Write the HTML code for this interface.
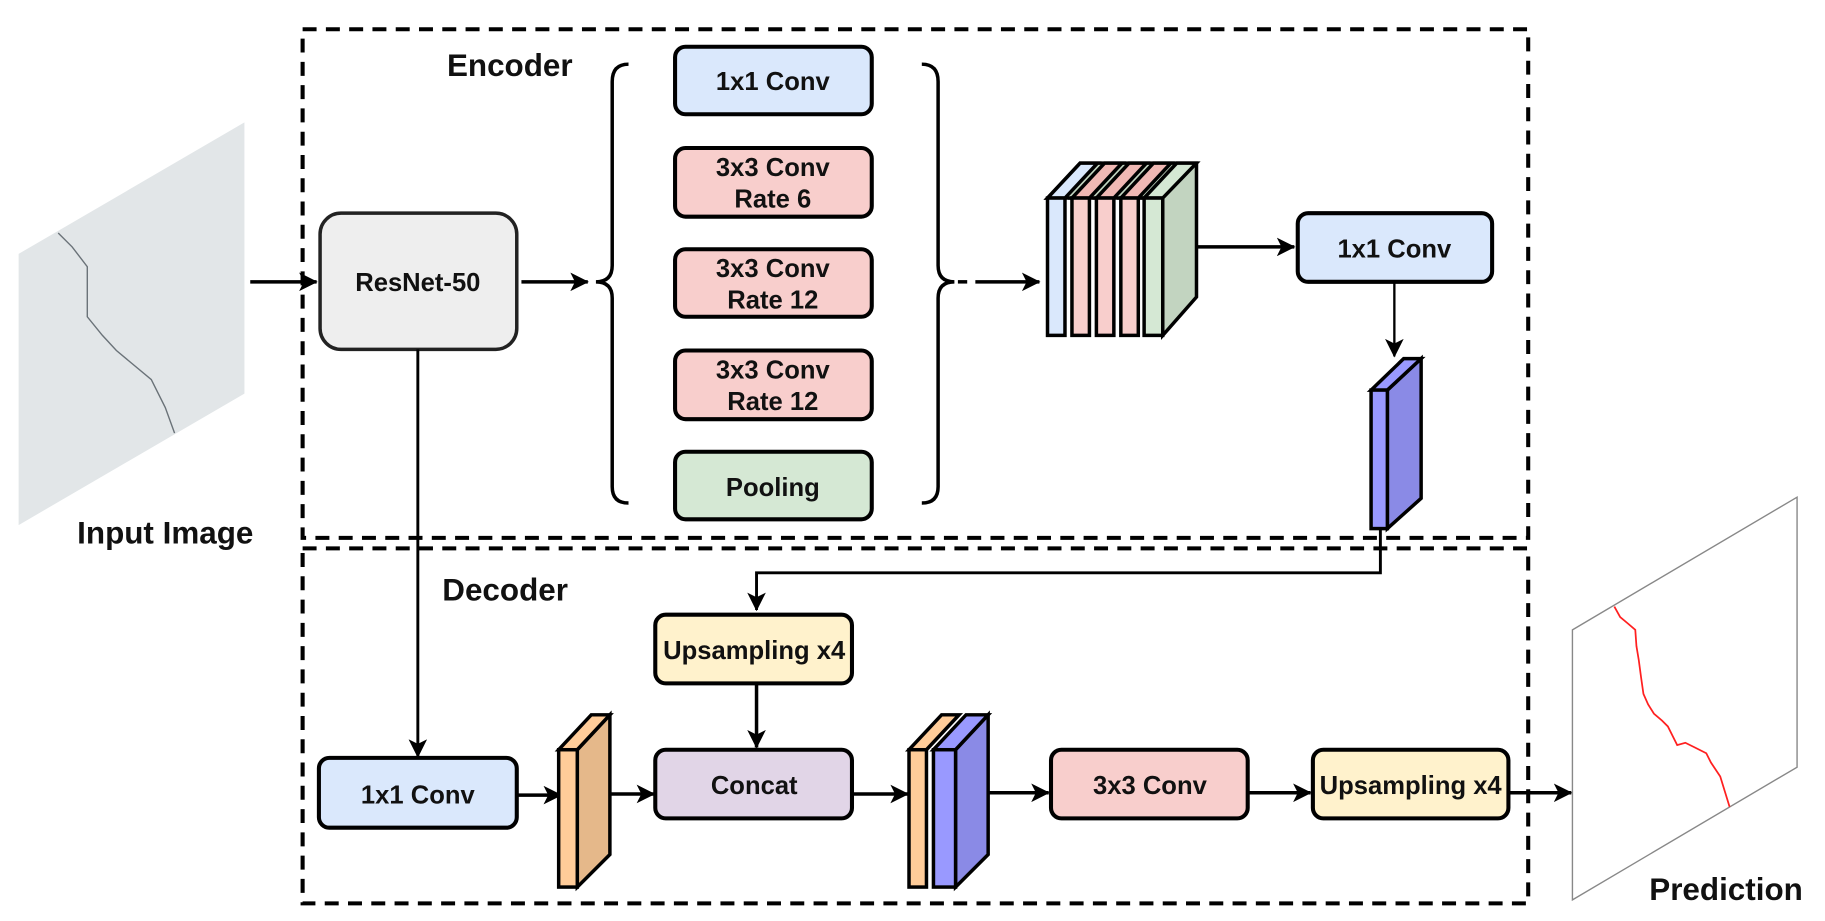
<!DOCTYPE html>
<html><head><meta charset="utf-8"><style>
html,body{margin:0;padding:0;background:#fff;}
svg{display:block;}
text{font-family:"Liberation Sans",Arial,sans-serif;font-weight:bold;fill:#111;}
</style></head><body>
<svg width="1825" height="921" viewBox="0 0 1568 791" xmlns="http://www.w3.org/2000/svg">
<defs>
<marker id="ah2" markerWidth="16" markerHeight="16" refX="15" refY="8" orient="auto" markerUnits="userSpaceOnUse">
<path d="M0,0 L16,8 L0,16 L4,8 z" fill="#000"/>
</marker>
</defs>
<!-- dashed boxes -->
<rect x="260" y="25" width="1053" height="437" fill="none" stroke="#000" stroke-width="3.5" stroke-dasharray="12 8"/>
<rect x="260" y="471" width="1053" height="305" fill="none" stroke="#000" stroke-width="3.5" stroke-dasharray="12 8"/>
<text x="384" y="65" font-size="27">Encoder</text>
<text x="380" y="516" font-size="27">Decoder</text>

<!-- input image -->
<polygon points="16,218 210,105 210,338 16,451" fill="#e2e6e8"/>
<polyline points="50,200 62,212 75,229 75,272 88,288 100,301 130,326 142,350 150,372" fill="none" stroke="#6a7278" stroke-width="1.2"/>
<text x="142" y="467" font-size="27" text-anchor="middle">Input Image</text>
<line x1="215" y1="242" x2="272" y2="242" stroke="#000" stroke-width="3" marker-end="url(#ah2)"/>

<!-- ResNet -->
<rect x="275" y="183" width="169" height="117" rx="18" fill="#eeeeee" stroke="#222" stroke-width="3"/>
<text x="359" y="250" font-size="22" text-anchor="middle">ResNet-50</text>
<line x1="448" y1="242" x2="505" y2="242" stroke="#000" stroke-width="3" marker-end="url(#ah2)"/>
<line x1="359" y1="300" x2="359" y2="650" stroke="#000" stroke-width="2.5" marker-end="url(#ah2)"/>

<!-- braces -->
<path d="M540,55 Q526,55 526,70 L526,228 Q526,242 512,242 Q526,242 526,256 L526,418 Q526,432 540,432" fill="none" stroke="#000" stroke-width="3"/>
<path d="M792,55 Q806,55 806,70 L806,228 Q806,242 820,242 Q806,242 806,256 L806,418 Q806,432 792,432" fill="none" stroke="#000" stroke-width="3"/>

<!-- ASPP boxes -->
<g stroke="#000" stroke-width="3.5">
<rect x="580" y="40" width="169" height="58" rx="9" fill="#dae8fc"/>
<rect x="580" y="127" width="169" height="59" rx="9" fill="#f8cecc"/>
<rect x="580" y="214" width="169" height="58" rx="9" fill="#f8cecc"/>
<rect x="580" y="301" width="169" height="59" rx="9" fill="#f8cecc"/>
<rect x="580" y="388" width="169" height="58" rx="9" fill="#d5e8d4"/>
</g>
<g font-size="22" text-anchor="middle">
<text x="664" y="77">1x1 Conv</text>
<text x="664" y="151">3x3 Conv</text><text x="664" y="178">Rate 6</text>
<text x="664" y="238">3x3 Conv</text><text x="664" y="265">Rate 12</text>
<text x="664" y="325">3x3 Conv</text><text x="664" y="352">Rate 12</text>
<text x="664" y="426">Pooling</text>
</g>
<line x1="823" y1="242" x2="831" y2="242" stroke="#000" stroke-width="3"/>
<line x1="838" y1="242" x2="893" y2="242" stroke="#000" stroke-width="3" marker-end="url(#ah2)"/>

<!-- stacked features -->
<g stroke="#000" stroke-width="3" stroke-linejoin="miter">
<polygon points="900,170 928,140 1028,140 1028,255 999,288 999,170" fill="#c2d4c0"/>
<polygon points="900,170 928,140 943,140 915,170" fill="#dae8fc"/>
<rect x="900" y="170" width="15" height="118" fill="#dae8fc"/>
<polygon points="921,170 949,140 964,140 936,170" fill="#f0b8b4"/>
<rect x="921" y="170" width="15" height="118" fill="#f8cecc"/>
<polygon points="942,170 970,140 985,140 957,170" fill="#f0b8b4"/>
<rect x="942" y="170" width="15" height="118" fill="#f8cecc"/>
<polygon points="963,170 991,140 1006,140 978,170" fill="#f0b8b4"/>
<rect x="963" y="170" width="15" height="118" fill="#f8cecc"/>
<polygon points="983,170 1011,140 1028,140 999,170" fill="#d5e8d4"/>
<rect x="983" y="170" width="16" height="118" fill="#d5e8d4"/>
</g>
<line x1="1028" y1="212" x2="1112" y2="212" stroke="#000" stroke-width="3" marker-end="url(#ah2)"/>
<rect x="1115" y="183" width="167" height="59" rx="9" fill="#dae8fc" stroke="#000" stroke-width="3.5"/>
<text x="1198" y="221" font-size="22" text-anchor="middle">1x1 Conv</text>
<line x1="1198" y1="243" x2="1198" y2="306" stroke="#000" stroke-width="2" marker-end="url(#ah2)"/>

<!-- purple block -->
<g stroke="#000" stroke-width="3">
<polygon points="1178,335 1192,335 1221,308 1221,428 1192,454 1192,335" fill="#8a8ae6"/>
<polygon points="1178,335 1206,308 1221,308 1192,335" fill="#9999ff"/>
<rect x="1178" y="335" width="14" height="119" fill="#9999ff"/>
</g>
<polyline points="1186,455 1186,492 650,492 650,524" fill="none" stroke="#000" stroke-width="2.5" marker-end="url(#ah2)"/>

<!-- decoder -->
<rect x="563" y="528" width="169" height="59" rx="9" fill="#fff2cc" stroke="#000" stroke-width="3.5"/>
<text x="648" y="566" font-size="22" text-anchor="middle">Upsampling x4</text>
<line x1="650" y1="588" x2="650" y2="642" stroke="#000" stroke-width="3" marker-end="url(#ah2)"/>
<rect x="563" y="644" width="169" height="59" rx="9" fill="#e1d5e7" stroke="#000" stroke-width="3.5"/>
<text x="648" y="682" font-size="22" text-anchor="middle">Concat</text>

<rect x="274" y="651" width="170" height="60" rx="9" fill="#dae8fc" stroke="#000" stroke-width="3.5"/>
<text x="359" y="690" font-size="22" text-anchor="middle">1x1 Conv</text>
<line x1="444" y1="683" x2="482" y2="683" stroke="#000" stroke-width="3" marker-end="url(#ah2)"/>

<g stroke="#000" stroke-width="3">
<polygon points="480,644 496,644 524,614 524,734 496,762 496,644" fill="#e5b88a"/>
<polygon points="480,644 508,614 524,614 496,644" fill="#ffcc99"/>
<rect x="480" y="644" width="16" height="118" fill="#ffcc99"/>
</g>
<line x1="524" y1="682" x2="562" y2="682" stroke="#000" stroke-width="3" marker-end="url(#ah2)"/>
<line x1="732" y1="682" x2="780" y2="682" stroke="#000" stroke-width="3" marker-end="url(#ah2)"/>

<g stroke="#000" stroke-width="3">
<polygon points="781,644 809,614 824,614 796,644" fill="#ffcc99"/>
<rect x="781" y="644" width="15" height="118" fill="#ffcc99"/>
<polygon points="802,644 821,644 849,614 849,734 821,762 821,644" fill="#8a8ae6"/>
<polygon points="802,644 830,614 849,614 821,644" fill="#9999ff"/>
<rect x="802" y="644" width="19" height="118" fill="#9999ff"/>
</g>
<line x1="849" y1="681" x2="901" y2="681" stroke="#000" stroke-width="3" marker-end="url(#ah2)"/>
<rect x="903" y="644" width="169" height="59" rx="9" fill="#f8cecc" stroke="#000" stroke-width="3.5"/>
<text x="988" y="682" font-size="22" text-anchor="middle">3x3 Conv</text>
<line x1="1072" y1="681" x2="1126" y2="681" stroke="#000" stroke-width="3" marker-end="url(#ah2)"/>
<rect x="1128" y="644" width="168" height="59" rx="9" fill="#fff2cc" stroke="#000" stroke-width="3.5"/>
<text x="1212" y="682" font-size="22" text-anchor="middle">Upsampling x4</text>
<line x1="1296" y1="681" x2="1350" y2="681" stroke="#000" stroke-width="3" marker-end="url(#ah2)"/>

<!-- prediction -->
<polygon points="1351,541 1544,427 1544,659 1351,773" fill="#fff" stroke="#888" stroke-width="1.2"/>
<polyline points="1387,521 1392,530 1398,535 1405,541 1406,555 1408,567 1410,582 1412,596 1416,605 1421,613 1428,619 1433,624 1437,632 1441,640 1448,638 1456,642 1466,647 1470,655 1478,667 1482,680 1486,693" fill="none" stroke="#ff2020" stroke-width="1.5"/>
<text x="1483" y="773" font-size="27" text-anchor="middle">Prediction</text>
</svg>
</body></html>
